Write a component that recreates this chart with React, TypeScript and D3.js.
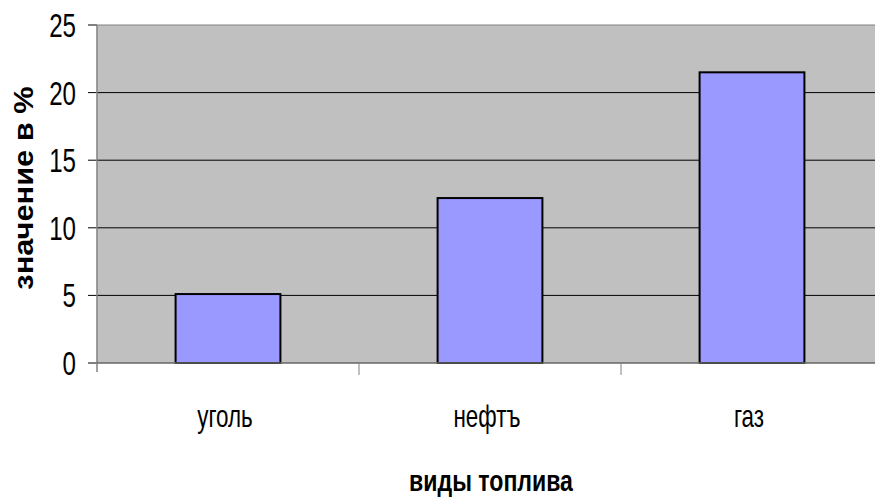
import React from "react";
import * as d3 from "d3";

const categories = ["уголь", "нефтъ", "газ"];
const values = [5.1, 12.2, 21.5];
const yTicks = [0, 5, 10, 15, 20, 25];

const width = 875;
const height = 498;
const margin = { top: 25, right: -8, bottom: 135, left: 97 };

export default function App() {
  const w = width - margin.left - margin.right;
  const h = height - margin.top - margin.bottom;

  const x = d3.scaleBand().domain(categories).range([0, w]).paddingInner(0.6).paddingOuter(0.3);
  const xBand = d3.scaleBand().domain(categories).range([0, w]);
  const y = d3.scaleLinear().domain([0, 25]).range([h, 0]);

  const font = "'Liberation Sans', Arial, sans-serif";

  return (
    <svg
      width={width}
      height={height}
      style={{ position: "absolute", left: 0, top: 0, background: "#fff" }}
    >
      <g transform={`translate(${margin.left},${margin.top})`}>
        <rect x={0} y={0} width={w} height={h} fill="#c0c0c0" />
        {yTicks.map((t) => (
          <g key={t}>
            {t > 0 && (
              <line x1={0} x2={w} y1={y(t)} y2={y(t)} stroke={t === 25 ? "#808080" : "#000"} strokeWidth={1} />
            )}
            <line x1={-9} x2={0} y1={y(t)} y2={y(t)} stroke="#000" />
            <text
              transform={`translate(-21,${y(t) + 12}) scale(0.73,1)`}
              textAnchor="end"
              fontFamily={font}
              fontSize={33}
              fill="#000"
            >
              {t}
            </text>
          </g>
        ))}
        {categories.map((c, i) => (
          <rect
            key={c}
            x={x(c)}
            y={y(values[i])}
            width={x.bandwidth()}
            height={h - y(values[i])}
            fill="#9999ff"
            stroke="#000"
            strokeWidth={2}
          />
        ))}
        <line x1={0} x2={0} y1={0} y2={h + 9} stroke="#808080" strokeWidth={1.5} />
        <line x1={0} x2={w} y1={h} y2={h} stroke="#666" strokeWidth={1.5} />
        {categories.slice(1).map((c) => (
          <line key={c} x1={xBand(c)} x2={xBand(c)} y1={h} y2={h + 12} stroke="#808080" />
        ))}
        {categories.map((c) => (
          <text
            key={c}
            transform={`translate(${(xBand(c) ?? 0) + xBand.bandwidth() / 2 - 3},${h + 64}) scale(0.7,1)`}
            textAnchor="middle"
            fontFamily={font}
            fontSize={32}
            fill="#000"
          >
            {c}
          </text>
        ))}
        <text
          transform={`translate(${491 - margin.left},${h + 128}) scale(0.77,1)`}
          textAnchor="middle"
          fontFamily={font}
          fontWeight="bold"
          fontSize={30}
          fill="#000"
        >
          виды топлива
        </text>
      </g>
      <text
        transform={`translate(33,188) rotate(-90) scale(1.1,1)`}
        textAnchor="middle"
        fontFamily={font}
        fontWeight="bold"
        fontSize={28}
        fill="#000"
      >
        значение в %
      </text>
    </svg>
  );
}
